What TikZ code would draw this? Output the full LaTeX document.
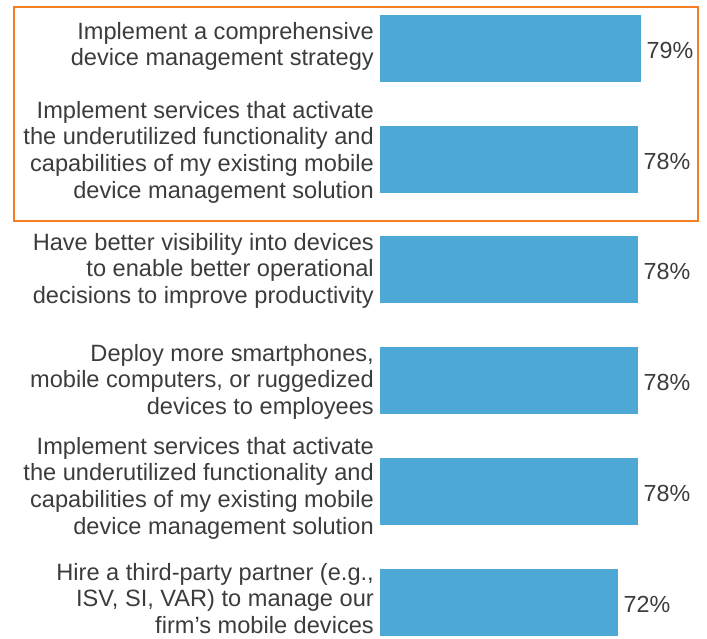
\documentclass[tikz,border=0pt]{standalone}
\usepackage{fontspec}
\setmainfont{Liberation Sans}
\definecolor{barblue}{RGB}{78,168,214}
\definecolor{txtgray}{RGB}{60,60,60}
\definecolor{hlorange}{RGB}{245,125,35}
\begin{document}
\begin{tikzpicture}[x=1pt,y=-1pt,
  bar/.style={fill=barblue,draw=none,inner sep=0pt,anchor=north west},
  cat/.style={anchor=north east,align=right,inner sep=0pt,text=txtgray,
    font=\fontsize{23.6}{26.6}\selectfont},
  pct/.style={anchor=base west,inner sep=0pt,text=txtgray,
    font=\fontsize{23.3}{26.5}\selectfont},
  hlbox/.style={draw=hlorange,line width=2pt}]
\useasboundingbox (0,0) rectangle (707,639);
% highlight frame
\node[hlbox,inner sep=0pt,minimum width=684pt,minimum height=214pt,anchor=north west] (frame) at (13,6) {};
% bars
\node[bar,minimum width=261pt,minimum height=67pt] (b1) at (380,15) {};
\node[bar,minimum width=258pt,minimum height=67pt] (b2) at (380,126) {};
\node[bar,minimum width=258pt,minimum height=67pt] (b3) at (380,236) {};
\node[bar,minimum width=258pt,minimum height=67pt] (b4) at (380,347) {};
\node[bar,minimum width=258pt,minimum height=67pt] (b5) at (380,458) {};
\node[bar,minimum width=238pt,minimum height=67pt] (b6) at (380,569) {};
% values
\node[pct] (v1) at ([xshift=5pt,yshift=-10pt]b1.east) {79\%};
\node[pct] (v2) at ([xshift=5pt,yshift=-10pt]b2.east) {78\%};
\node[pct] (v3) at ([xshift=5pt,yshift=-10pt]b3.east) {78\%};
\node[pct] (v4) at ([xshift=5pt,yshift=-10pt]b4.east) {78\%};
\node[pct] (v5) at ([xshift=5pt,yshift=-10pt]b5.east) {78\%};
\node[pct] (v6) at ([xshift=5pt,yshift=-10pt]b6.east) {72\%};
% category labels
\node[cat] (c1) at (374,22) {Implement a comprehensive\\device management strategy};
\node[cat] (c2) at (374,101) {Implement services that activate\\the underutilized functionality and\\capabilities of my existing mobile\\device management solution};
\node[cat] (c3) at (374,233) {Have better visibility into devices\\to enable better operational\\decisions to improve productivity};
\node[cat] (c4) at (374,344) {Deploy more smartphones,\\mobile computers, or ruggedized\\devices to employees};
\node[cat] (c5) at (374,437) {Implement services that activate\\the underutilized functionality and\\capabilities of my existing mobile\\device management solution};
\node[cat] (c6) at (374,563) {Hire a third-party partner (e.g.,\\ISV, SI, VAR) to manage our\\firm’s mobile devices};
\end{tikzpicture}
\end{document}
